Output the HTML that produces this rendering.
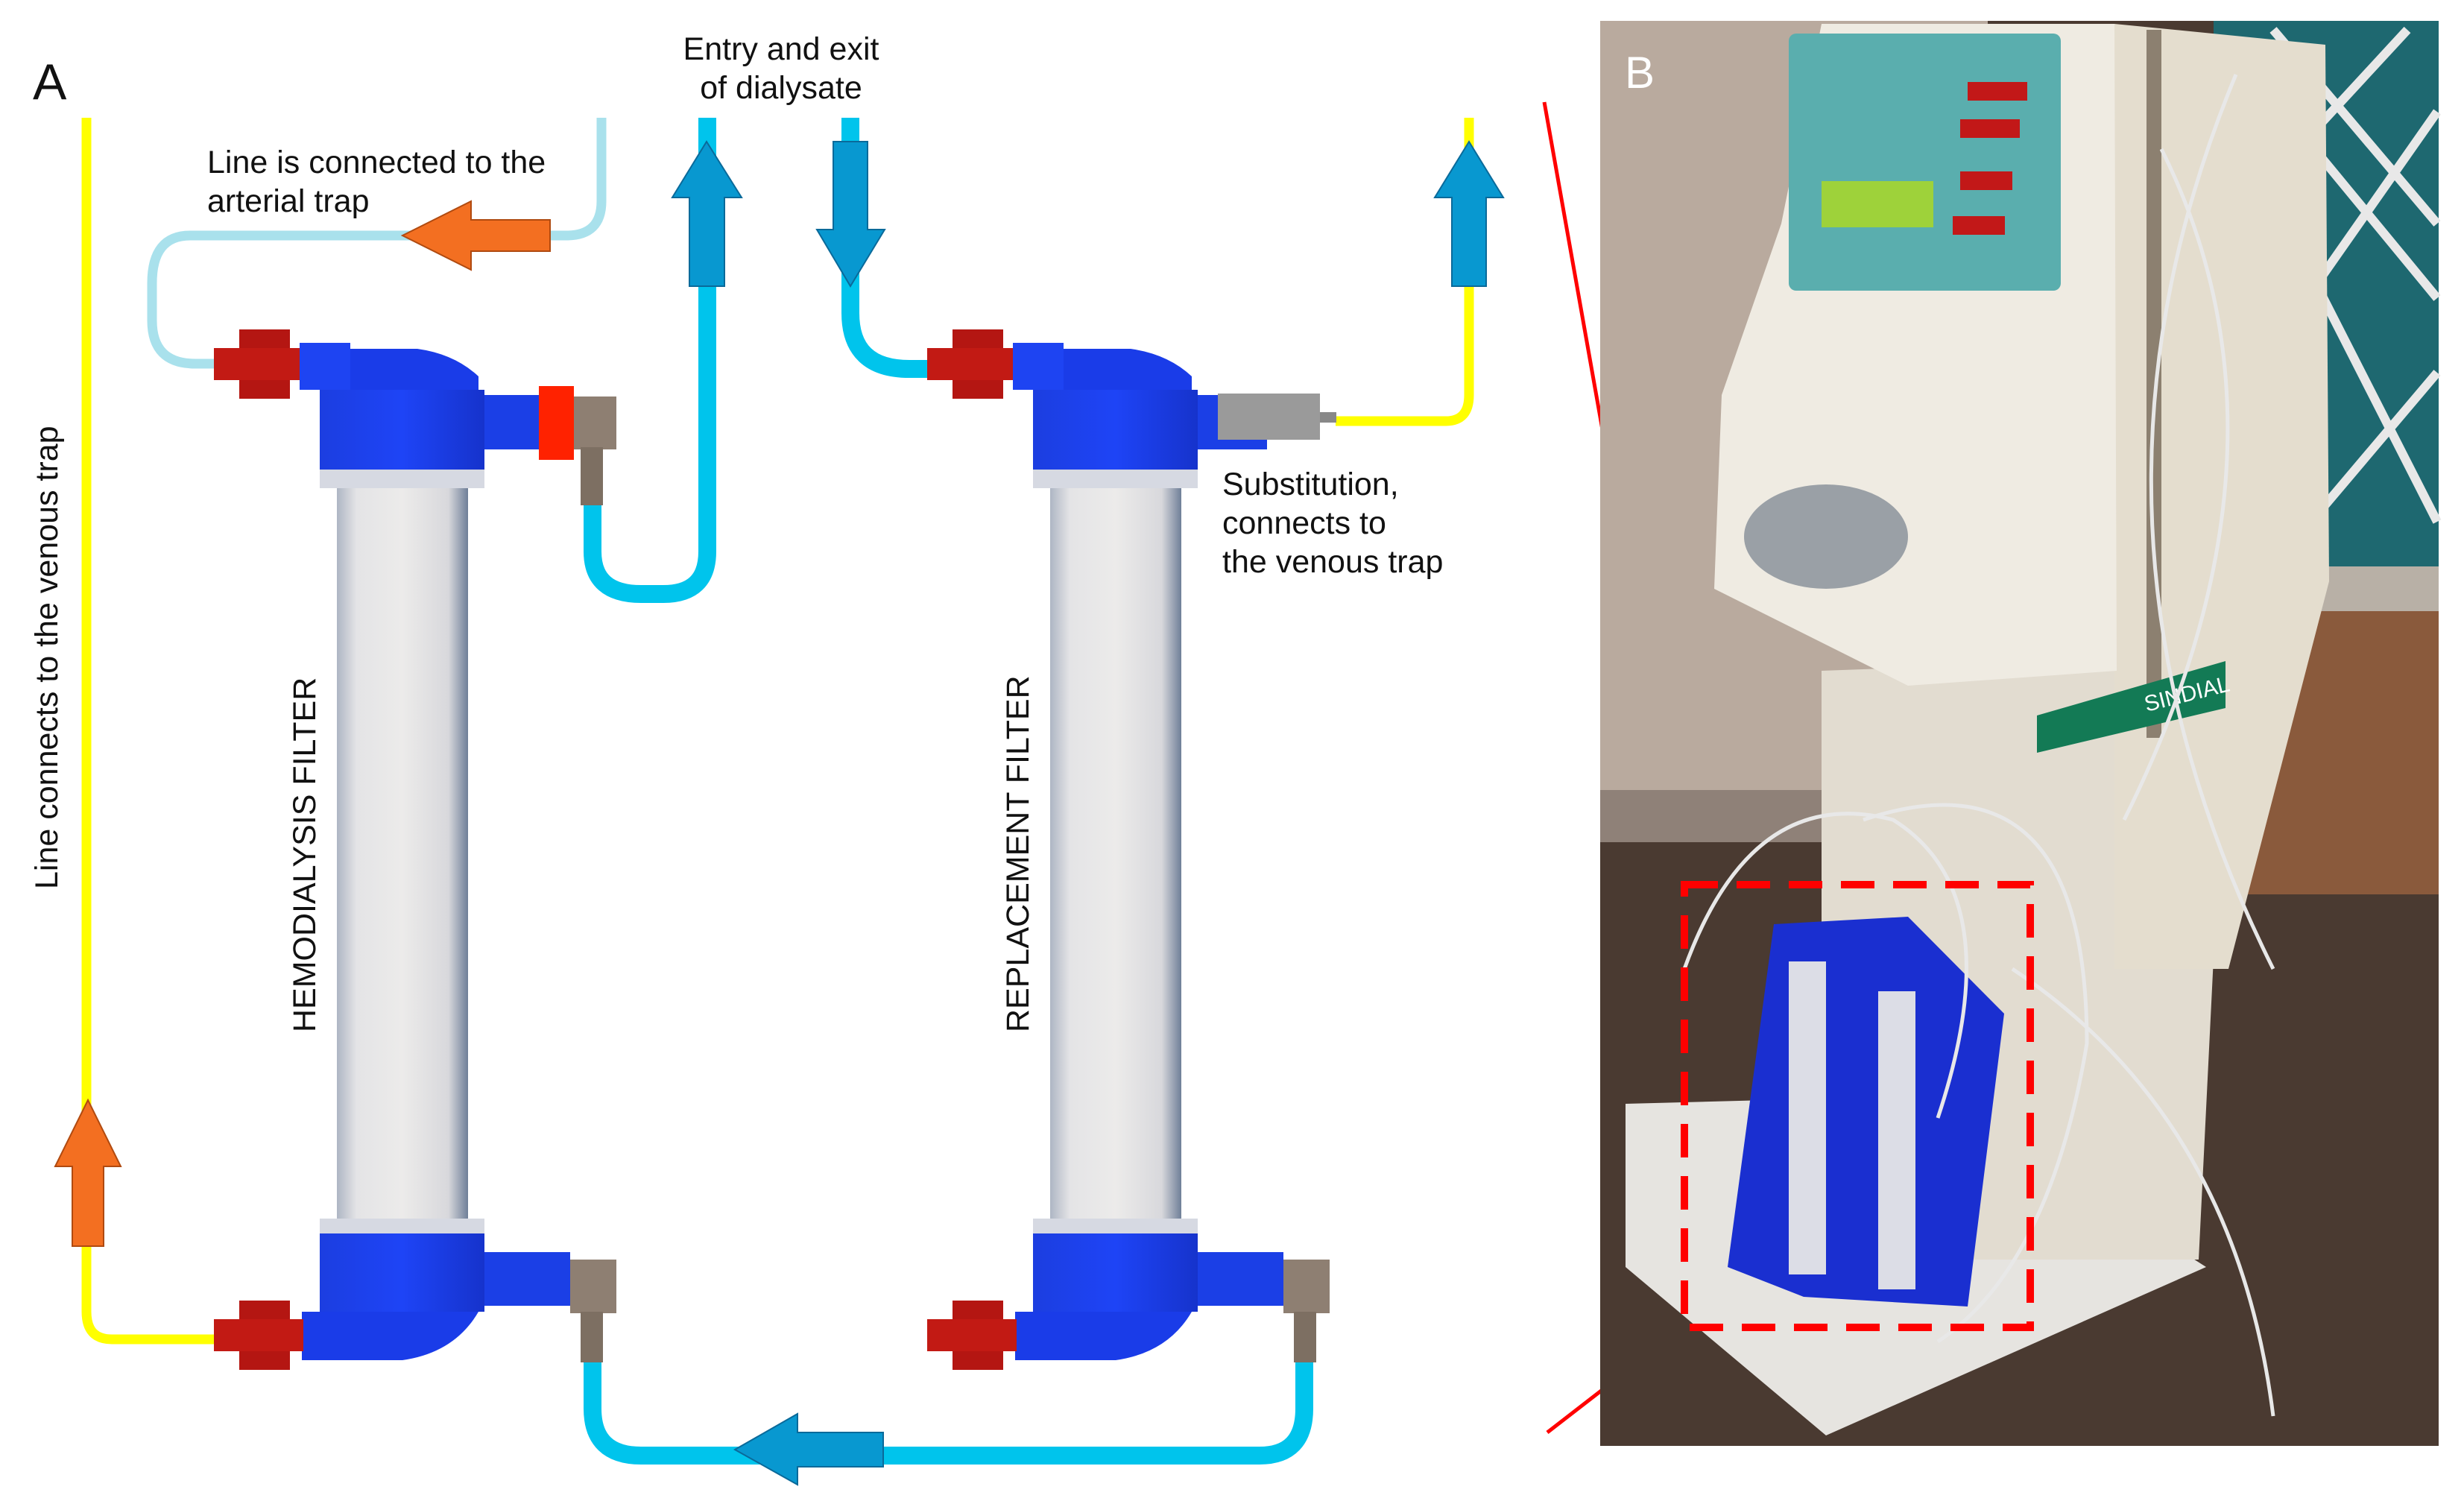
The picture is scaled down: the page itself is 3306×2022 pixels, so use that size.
<!DOCTYPE html>
<html><head><meta charset="utf-8"><style>
html,body{margin:0;padding:0;background:#fff;}
svg{display:block;}
text{font-family:"Liberation Sans",Arial,sans-serif;fill:#111;}
</style></head><body>
<svg width="3306" height="2022" viewBox="0 0 3306 2022" xmlns="http://www.w3.org/2000/svg">
<defs>
<linearGradient id="tube" x1="0" x2="1">
<stop offset="0" stop-color="#aeb6c4"/><stop offset="0.15" stop-color="#e4e4e6"/><stop offset="0.5" stop-color="#ecebea"/><stop offset="0.85" stop-color="#d8d8dc"/><stop offset="1" stop-color="#6f7f98"/>
</linearGradient>
<linearGradient id="cap" x1="0" x2="1">
<stop offset="0" stop-color="#1c3ee0"/><stop offset="0.5" stop-color="#1e44f6"/><stop offset="1" stop-color="#1633cc"/>
</linearGradient>
<g id="topcap">
<rect x="321" y="442" width="68" height="93" fill="#b41612"/>
<rect x="287" y="467" width="115" height="43" fill="#c21a14"/>
<rect x="402" y="460" width="68" height="63" fill="#1e44f2"/>
<path d="M470 468 L560 468 Q610 475 642 505 L642 523 L470 523 Z" fill="#1a3ce8"/>
<rect x="429" y="523" width="221" height="107" fill="url(#cap)"/>
<rect x="429" y="630" width="221" height="25" fill="#d6d9e2"/>
<rect x="650" y="530" width="73" height="73" fill="#1b3fe6"/>
</g>
<g id="botcap">
<rect x="429" y="1635" width="221" height="22" fill="#d6d9e2"/>
<rect x="429" y="1655" width="221" height="105" fill="url(#cap)"/>
<path d="M405 1760 L642 1760 Q610 1815 540 1825 L405 1825 Z" fill="#1a3ce8"/>
<rect x="321" y="1745" width="68" height="93" fill="#b41612"/>
<rect x="287" y="1770" width="120" height="43" fill="#c21a14"/>
<rect x="650" y="1680" width="115" height="72" fill="#1b3fe6"/>
</g>
</defs>

<!-- Panel A -->
<text x="44" y="133" font-size="68">A</text>

<path d="M116 158 L116 1760 Q116 1797 150 1797 L290 1797" fill="none" stroke="#ffff00" stroke-width="13"/>
<polygon points="118,1476 162,1565 139,1565 139,1672 97,1672 97,1565 74,1565" fill="#f36f21" stroke="#b04a10" stroke-width="2"/>
<text transform="translate(77,1193) rotate(-90)" font-size="43">Line connects to the venous trap</text>

<path d="M807 158 L807 270 Q807 316 760 316 L255 316 Q204 316 204 380 L204 430 Q204 488 262 488 L290 488" fill="none" stroke="#a9e1ec" stroke-width="13"/>
<polygon points="540,316 632,270 632,295 738,295 738,337 632,337 632,362" fill="#f36f21" stroke="#b04a10" stroke-width="2"/>
<text x="278" y="232" font-size="43">Line is connected to the</text>
<text x="278" y="284" font-size="43">arterial trap</text>

<path d="M795 675 L795 740 Q795 797 860 797 L890 797 Q949 797 949 740 L949 158" fill="none" stroke="#00c4ec" stroke-width="24"/>
<polygon points="948,190 995,265 972,265 972,384 925,384 925,265 902,265" fill="#0898d0" stroke="#0a6a9a" stroke-width="2"/>
<text x="1048" y="80" font-size="43" text-anchor="middle">Entry and exit</text>
<text x="1048" y="132" font-size="43" text-anchor="middle">of dialysate</text>

<path d="M1141 158 L1141 420 Q1141 495 1220 495 L1250 495" fill="none" stroke="#00c4ec" stroke-width="24"/>
<polygon points="1141,384 1187,308 1164,308 1164,190 1118,190 1118,308 1096,308" fill="#0898d0" stroke="#0a6a9a" stroke-width="2"/>

<path d="M1792 565 L1940 565 Q1971 565 1971 530 L1971 158" fill="none" stroke="#ffff00" stroke-width="13"/>
<polygon points="1971,190 2017,265 1994,265 1994,384 1948,384 1948,265 1925,265" fill="#0898d0" stroke="#0a6a9a" stroke-width="2"/>
<text x="1640" y="664" font-size="43">Substitution,</text>
<text x="1640" y="716" font-size="43">connects to</text>
<text x="1640" y="768" font-size="43">the venous trap</text>

<path d="M795 1825 L795 1890 Q795 1953 860 1953 L1690 1953 Q1750 1953 1750 1890 L1750 1825" fill="none" stroke="#00c4ec" stroke-width="24"/>
<polygon points="986,1945 1070,1897 1070,1922 1185,1922 1185,1968 1070,1968 1070,1992" fill="#0898d0" stroke="#0a6a9a" stroke-width="2"/>

<rect x="452" y="650" width="176" height="990" rx="6" fill="url(#tube)"/>
<use href="#topcap"/>
<rect x="723" y="518" width="47" height="99" fill="#ff2200"/>
<rect x="770" y="532" width="57" height="71" fill="#8e7f72"/>
<rect x="779" y="600" width="30" height="78" fill="#7d6f62"/>
<use href="#botcap"/>
<rect x="765" y="1690" width="62" height="72" fill="#8e7f72"/>
<rect x="779" y="1760" width="30" height="68" fill="#7d6f62"/>
<text transform="translate(423,1385) rotate(-90)" font-size="43">HEMODIALYSIS FILTER</text>

<g transform="translate(957,0)">
<rect x="452" y="650" width="176" height="990" rx="6" fill="url(#tube)"/>
<use href="#topcap"/>
<rect x="723" y="530" width="20" height="73" fill="#1b3fe6"/>
<rect x="677" y="528" width="137" height="62" fill="#9a9a9a"/>
<rect x="814" y="553" width="22" height="14" fill="#888"/>
<use href="#botcap"/>
<rect x="765" y="1690" width="62" height="72" fill="#8e7f72"/>
<rect x="779" y="1760" width="30" height="68" fill="#7d6f62"/>
<text transform="translate(423,1385) rotate(-90)" font-size="43">REPLACEMENT FILTER</text>
</g>

<line x1="2072" y1="137" x2="2258" y2="1185" stroke="#f00" stroke-width="5"/>
<line x1="2076" y1="1922" x2="2258" y2="1781" stroke="#f00" stroke-width="5"/>

<g>
<rect x="2147" y="28" width="1125" height="1912" fill="#4a3a31"/>
<rect x="2147" y="28" width="520" height="1100" fill="#b9aa9e"/>
<rect x="2147" y="1060" width="520" height="70" fill="#8f8178"/>
<rect x="2970" y="28" width="302" height="740" fill="#1e6870"/>
<path d="M2990 60 L3270 400 M3050 40 L3270 300 M2990 300 L3230 40 M2990 550 L3270 150 M3050 760 L3270 500 M2990 150 L3270 700" stroke="#e8e8e8" stroke-width="12" fill="none"/>
<rect x="2970" y="760" width="302" height="440" fill="#8a5a3c"/>
<rect x="2970" y="760" width="302" height="60" fill="#b8b0a6"/>
<polygon points="2181,1481 2600,1470 2960,1700 2450,1926 2181,1700" fill="#e6e4e0"/>
<polygon points="2444,900 2990,880 2950,1690 2444,1690" fill="#e2dcd0"/>
<polygon points="2837,32 3120,60 3125,780 2990,1300 2837,1300" fill="#e4ddce"/>
<polygon points="2444,32 2837,32 2840,900 2560,920 2300,790 2310,530 2390,300" fill="#efebe2"/>
<rect x="2400" y="45" width="365" height="345" rx="10" fill="#5aaeae"/>
<rect x="2444" y="243" width="150" height="62" fill="#9ed23a"/>
<rect x="2640" y="110" width="80" height="25" fill="#c21818"/>
<rect x="2630" y="160" width="80" height="25" fill="#c21818"/>
<rect x="2630" y="230" width="70" height="25" fill="#c21818"/>
<rect x="2620" y="290" width="70" height="25" fill="#c21818"/>
<ellipse cx="2450" cy="720" rx="110" ry="70" fill="#9aa0a6"/>
<rect x="2880" y="40" width="20" height="950" fill="#8c8070"/>
<polygon points="2733,960 2986,887 2986,950 2733,1010" fill="#137a55"/>
<text x="2880" y="955" font-size="30" style="fill:#fff" transform="rotate(-14 2880 955)">SINDIAL</text>
<polygon points="2318,1700 2380,1240 2560,1230 2689,1360 2640,1753 2420,1740" fill="#1a2fd0"/>
<rect x="2400" y="1290" width="50" height="420" fill="#dcdde6"/>
<rect x="2520" y="1330" width="50" height="400" fill="#dcdde6"/>
<path d="M2260 1300 Q2350 1050 2540 1100 Q2700 1200 2600 1500 M2500 1100 Q2800 1000 2800 1400 Q2750 1700 2600 1800 M2700 1300 Q3000 1500 3050 1900 M2900 200 Q3100 600 2850 1100 M3000 100 Q2750 700 3050 1300" stroke="#e8e8e8" stroke-width="5" fill="none"/>
<text x="2180" y="118" font-size="60" style="fill:#fff">B</text>
<rect x="2260" y="1187" width="464" height="594" fill="none" stroke="#f00" stroke-width="10" stroke-dasharray="45,25"/>
</g>
</svg>
</body></html>
